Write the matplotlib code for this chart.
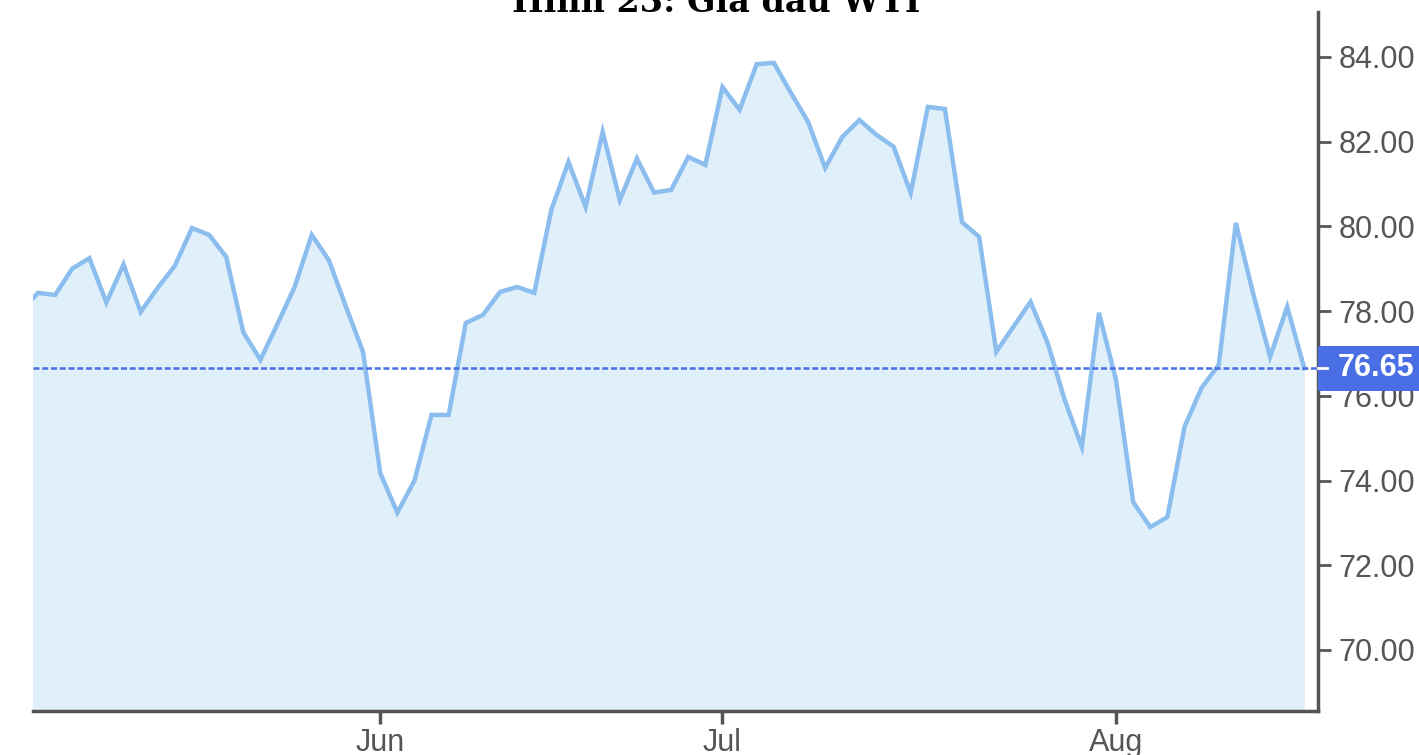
import numpy as np
import pandas as pd
import matplotlib
matplotlib.use("Agg")
import matplotlib.pyplot as plt
import matplotlib.transforms as mtransforms
from matplotlib.patches import Rectangle

# WTI daily settle, one value per weekday starting 2024-05-03
start_date = "2024-05-03"
wti_close = [
    78.00, 78.43, 78.38, 79.00, 79.25, 78.20, 79.10, 77.98, 78.55, 79.07,
    79.96, 79.80, 79.28, 77.50, 76.85, 77.70, 78.57, 79.80, 79.20, 78.10,
    77.03, 74.18, 73.24, 74.00, 75.55, 75.55, 77.72, 77.91, 78.45, 78.57,
    78.43, 80.39, 81.52, 80.46, 82.23, 80.62, 81.60, 80.80, 80.86, 81.64,
    81.45, 83.29, 82.75, 83.83, 83.86, 83.15, 82.47, 81.38, 82.11, 82.51,
    82.16, 81.88, 80.79, 82.82, 82.77, 80.10, 79.75, 77.04, 77.63, 78.22,
    77.25, 75.90, 74.79, 77.96, 76.37, 73.49, 72.90, 73.14, 75.27, 76.19,
    76.73, 80.08, 78.43, 76.92, 78.10, 76.65,
]
month_labels = ["Jun", "Jul", "Aug"]
price_ticks = [70, 72, 74, 76, 78, 80, 82, 84]
title_text = "Hình 23: Giá dầu WTI"

line_color = "#8bbdee"
fill_color = "#e0f0fa"
last_color = "#4a6ee3"
axis_color = "#555555"

dates = pd.bdate_range(start=start_date, periods=len(wti_close))
series = pd.Series(wti_close, index=dates)
pos = np.arange(len(series))

# first trading day of each month after the start
month_start = series.groupby(series.index.to_period("M")).head(1).index[1:]
month_pos = [dates.get_loc(d) for d in month_start]

plt.rcParams["font.family"] = ["Liberation Sans", "DejaVu Sans"]

fig = plt.figure(figsize=(14.19, 7.55), dpi=100)
ax = fig.add_axes([33 / 1419, 44 / 755, (1318 - 33) / 1419, (743 - 44) / 755])

ymin, ymax = 68.56, 85.06
ax.fill_between(pos, series.values, ymin, color=fill_color, lw=0, zorder=1)
ax.plot(pos, series.values, color=line_color, lw=3.2, solid_joinstyle="miter", zorder=2)

last = series.iloc[-1]
ax.axhline(last, color=last_color, lw=1.8, dashes=(2.4, 1.1), zorder=3)

ax.set_xlim(0.71, 75.8)
ax.set_ylim(ymin, ymax)

ax.yaxis.tick_right()
ax.set_yticks(price_ticks)
ax.set_yticklabels([f"{v:.2f}" for v in price_ticks])
ax.set_xticks(month_pos)
ax.set_xticklabels(month_labels[:len(month_pos)])

ax.tick_params(axis="y", length=9, width=2, color=axis_color, pad=6,
               labelsize=22, labelcolor=axis_color)
ax.tick_params(axis="x", length=9, width=2.5, color=axis_color, pad=3,
               labelsize=22, labelcolor=axis_color)

for side in ["left", "top"]:
    ax.spines[side].set_visible(False)
for side in ["right", "bottom"]:
    ax.spines[side].set_color(axis_color)
    ax.spines[side].set_linewidth(2.5)

# last-value marker box on the price axis
trans = mtransforms.blended_transform_factory(ax.transAxes, ax.transData)
box_h = 1.06
ax.add_patch(Rectangle((1.0, last - box_h / 2), 0.09, box_h, transform=trans,
                       facecolor=last_color, edgecolor="none", clip_on=False, zorder=5))
ax.plot([1.0, 1.007], [last, last], transform=trans, color="white", lw=2,
        clip_on=False, zorder=6)
ax.text(1.0155, last, f"{last:.2f}", transform=trans, ha="left", va="center",
        fontsize=22, fontweight="bold", color="white", zorder=7, clip_on=False)

fig.text(0.505, 1 - 12 / 755, title_text, ha="center", va="baseline",
         fontsize=24, fontweight="bold", family="DejaVu Serif")

fig.savefig("out.png", dpi=100, facecolor="white")
